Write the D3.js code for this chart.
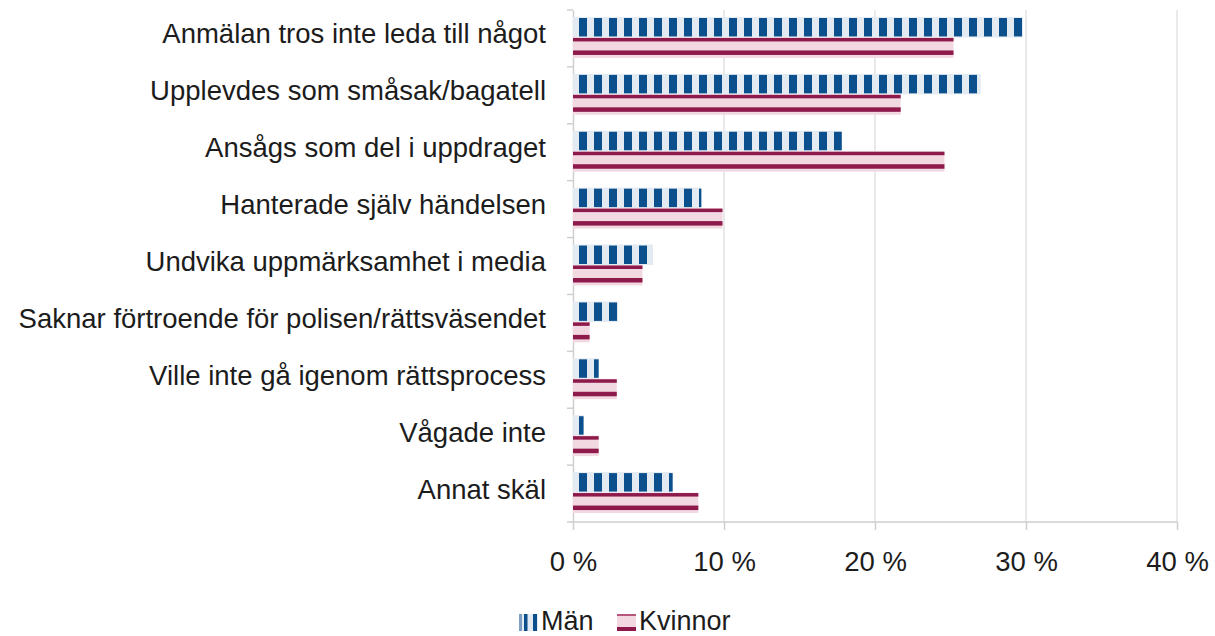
<!DOCTYPE html>
<html>
<head>
<meta charset="utf-8">
<script src="https://cdn.jsdelivr.net/npm/d3@7"></script>
<style>
  html, body { margin: 0; padding: 0; background: #ffffff; }
  svg { display: block; }
  text { font-family: "Liberation Sans", Arial, Helvetica, sans-serif; fill: #1c1c1c; }
</style>
</head>
<body>
<svg id="chart" width="1215" height="636"></svg>
<script>
const categories = [
  "Anmälan tros inte leda till något",
  "Upplevdes som småsak/bagatell",
  "Ansågs som del i uppdraget",
  "Hanterade själv händelsen",
  "Undvika uppmärksamhet i media",
  "Saknar förtroende för polisen/rättsväsendet",
  "Ville inte gå igenom rättsprocess",
  "Vågade inte",
  "Annat skäl"
];
const seriesNames = ["Män", "Kvinnor"];
const menValues = [29.8, 27.0, 17.8, 8.5, 5.3, 3.0, 1.7, 0.7, 6.6];
const womenValues = [25.2, 21.7, 24.6, 9.9, 4.6, 1.1, 2.9, 1.7, 8.3];
const xTickValues = [0, 10, 20, 30, 40];
const xTickLabels = ["0 %", "10 %", "20 %", "30 %", "40 %"];

const svg = d3.select("#chart");
const blue = "#0b4f8c", lightBlue = "#e4eaf2";
const maroon = "#8e1a4b", pink = "#f2d8e1";
const axisGray = "#cfcfcf", gridGray = "#e2e2e2";
const fs = 27.5;

const x = d3.scaleLinear().domain([0, 40]).range([573, 1177]);
const y = d3.scaleBand().domain(categories).range([10, 522]);
const yInner = d3.scaleBand().domain(seriesNames).range([7, y.bandwidth() - 9]);

// patterns
const defs = svg.append("defs");
const pat = defs.append("pattern")
  .attr("id", "menStripes")
  .attr("patternUnits", "userSpaceOnUse")
  .attr("x", x(0) + 6).attr("y", 0)
  .attr("width", 15).attr("height", 636);
pat.append("rect").attr("x", 0).attr("y", 0).attr("width", 8).attr("height", 636).attr("fill", blue);

// gridlines
svg.append("g").selectAll("line").data(xTickValues.filter(d => d > 0)).join("line")
  .attr("x1", d => x(d)).attr("x2", d => x(d))
  .attr("y1", 10).attr("y2", 522)
  .attr("stroke", gridGray).attr("stroke-width", 1.5);

// left axis
const yAxis = d3.axisLeft(y).tickSize(0).tickFormat("");
const gy = svg.append("g").attr("transform", `translate(${x(0)},0)`).call(yAxis);
gy.select(".domain").attr("stroke", axisGray).attr("stroke-width", 1.5);
// boundary ticks
const bounds = categories.map(c => y(c)).concat([y.range()[1]]);
svg.append("g").selectAll("line").data(bounds).join("line")
  .attr("x1", x(0) - 6).attr("x2", x(0))
  .attr("y1", d => d).attr("y2", d => d)
  .attr("stroke", axisGray).attr("stroke-width", 1.5);

// category labels
svg.append("g").selectAll("text").data(categories).join("text")
  .attr("x", 546)
  .attr("y", d => y(d) + y.bandwidth() / 2 + 5)
  .attr("text-anchor", "end")
  .attr("font-size", fs)
  .text(d => d);

// bottom axis
const xAxis = d3.axisBottom(x).tickValues(xTickValues).tickSize(8).tickFormat((d, i) => xTickLabels[i]);
const gx = svg.append("g").attr("transform", "translate(0,522)").call(xAxis);
gx.select(".domain").attr("stroke", axisGray).attr("stroke-width", 1.5).attr("d", `M${x(0)},0H${x(40)}`);
gx.selectAll(".tick line").attr("stroke", axisGray).attr("stroke-width", 1.5);
gx.selectAll(".tick text")
  .attr("y", 49).attr("dy", 0)
  .attr("font-size", fs)
  .style("font-family", '"Liberation Sans", Arial, Helvetica, sans-serif')
  .attr("fill", "#1c1c1c");

// men bars
const menG = svg.append("g");
menG.selectAll("rect.bg").data(categories).join("rect")
  .attr("class", "bg")
  .attr("x", x(0))
  .attr("y", (d) => y(d) + yInner("Män"))
  .attr("width", (d, i) => x(menValues[i]) - x(0))
  .attr("height", yInner.bandwidth())
  .attr("fill", lightBlue);
menG.selectAll("rect.st").data(categories).join("rect")
  .attr("class", "st")
  .attr("x", x(0))
  .attr("y", (d) => y(d) + yInner("Män") + 1)
  .attr("width", (d, i) => x(menValues[i]) - x(0))
  .attr("height", yInner.bandwidth() - 2)
  .attr("fill", "url(#menStripes)");

// women bars
const womenG = svg.append("g");
const wy = d => y(d) + yInner("Kvinnor");
womenG.selectAll("rect.bg").data(categories).join("rect")
  .attr("class", "bg")
  .attr("x", x(0)).attr("y", wy)
  .attr("width", (d, i) => x(womenValues[i]) - x(0))
  .attr("height", yInner.bandwidth())
  .attr("fill", pink);
womenG.selectAll("rect.l1").data(categories).join("rect")
  .attr("class", "l1")
  .attr("x", x(0)).attr("y", d => wy(d) + 0.5)
  .attr("width", (d, i) => x(womenValues[i]) - x(0))
  .attr("height", 3.5)
  .attr("fill", maroon);
womenG.selectAll("rect.l2").data(categories).join("rect")
  .attr("class", "l2")
  .attr("x", x(0)).attr("y", d => wy(d) + 13)
  .attr("width", (d, i) => x(womenValues[i]) - x(0))
  .attr("height", 4.5)
  .attr("fill", maroon);

// legend
const leg = svg.append("g");
// Män swatch
leg.append("rect").attr("x", 519).attr("y", 614).attr("width", 19).attr("height", 17).attr("fill", lightBlue);
leg.append("rect").attr("x", 519).attr("y", 614).attr("width", 3).attr("height", 17).attr("fill", "#7e9fc2");
leg.append("rect").attr("x", 524).attr("y", 614).attr("width", 3.5).attr("height", 17).attr("fill", blue);
leg.append("rect").attr("x", 533).attr("y", 614).attr("width", 4).attr("height", 17).attr("fill", blue);
leg.append("text").attr("x", 541).attr("y", 630).attr("font-size", 27).text(seriesNames[0]);
// Kvinnor swatch
leg.append("rect").attr("x", 617).attr("y", 614).attr("width", 19).attr("height", 17).attr("fill", pink);
leg.append("rect").attr("x", 617).attr("y", 614).attr("width", 19).attr("height", 2).attr("fill", "#b5577d");
leg.append("rect").attr("x", 617).attr("y", 627).attr("width", 19).attr("height", 4).attr("fill", maroon);
leg.append("text").attr("x", 639).attr("y", 630).attr("font-size", 27).text(seriesNames[1]);
</script>
</body>
</html>
